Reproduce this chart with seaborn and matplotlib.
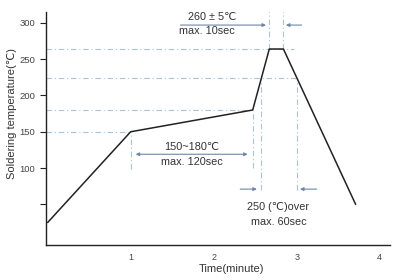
import matplotlib
matplotlib.use("Agg")
import matplotlib.pyplot as plt
import seaborn as sns
import pandas as pd

# ---- data ----
time_min = [0, 1, 2.47, 2.67, 2.84, 3.71]
temp_c = [25, 150, 180, 264, 264, 50]

# horizontal reference lines: (temperature, x_end)
h_ref_temp = [150, 180, 224, 264]
h_ref_xend = [1.0, 2.47, 3.0, 2.97]
# vertical reference lines: (time, y_from, y_to)
v_ref_time = [1.0, 2.47, 2.575, 3.0, 2.67, 2.84]
v_ref_ylo = [99, 100, 70, 70, 264, 264]
v_ref_yhi = [150, 180, 224, 224, 316, 316]

xticks = [1, 2, 3, 4]
yticks = [50, 100, 150, 200, 250, 300]
ytick_labels = ["", "100", "150", "200", "250", "300"]

sns.set_theme(style="white")
plt.rcParams['font.family'] = ['Liberation Sans', 'DejaVu Sans']

fig = plt.figure(figsize=(4.12, 2.80), dpi=100)
ax = fig.add_axes([46/412, 1-245/280, (390-46)/412, (245-12)/280])

ref_color = "#a9c3d9"
arrow_color = "#6f86a8"
txt = "#333333"

for t, xe in zip(h_ref_temp, h_ref_xend):
    ax.plot([-0.02, xe], [t, t], color=ref_color, lw=0.8, ls=(0, (5, 2.5, 1, 2.5)), zorder=1)
for x, lo, hi in zip(v_ref_time, v_ref_ylo, v_ref_yhi):
    ax.plot([x, x], [lo, hi], color=ref_color, lw=0.8, ls=(0, (5, 2.5, 1, 2.5)), zorder=1)

df = pd.DataFrame({"time": time_min, "temp": temp_c})
sns.lineplot(data=df, x="time", y="temp", ax=ax, color="#222222", lw=1.1, sort=False, zorder=3)

ax.set_xlim(-0.02, 4.124)
ax.set_ylim(-6, 315)
ax.set_xticks(xticks)
ax.set_xticklabels([str(v) for v in xticks])
ax.set_yticks(yticks)
ax.set_yticklabels(ytick_labels)
ax.tick_params(axis='x', direction='inout', length=6, width=0.8, labelsize=6.5, pad=3, colors="#222222")
ax.tick_params(axis='y', direction='out', length=4, width=0.8, labelsize=6.8, pad=4, colors="#222222", left=True)
ax.tick_params(axis='both', labelcolor="#444444")
for s in ["top", "right"]:
    ax.spines[s].set_visible(False)
for s in ["left", "bottom"]:
    ax.spines[s].set_color("#222222")
    ax.spines[s].set_linewidth(1.0)

ax.set_xlabel("Time(minute)", fontsize=8, color=txt)
ax.set_ylabel("Soldering temperature(℃)", fontsize=8, color=txt)
ax.xaxis.set_label_coords(0.54, -0.083)
ax.yaxis.set_label_coords(-0.084, 0.566)

ap = dict(arrowstyle="-|>", color=arrow_color, lw=0.8, mutation_scale=5, shrinkA=0, shrinkB=0)
ap2 = dict(arrowstyle="<|-|>", color=arrow_color, lw=0.8, mutation_scale=5, shrinkA=0, shrinkB=0)

fs = 7.8
# 150~180 double arrow
ax.annotate("", xy=(2.41, 119), xytext=(1.06, 119), arrowprops=ap2)
ax.text(1.74, 129, "150~180℃", ha="center", va="center", fontsize=fs, color=txt)
ax.text(1.74, 108, "max. 120sec", ha="center", va="center", fontsize=fs, color=txt)

# top arrows
ax.annotate("", xy=(2.63, 297), xytext=(1.6, 297), arrowprops=ap)
ax.annotate("", xy=(2.87, 297), xytext=(3.06, 297), arrowprops=ap)
ax.text(1.98, 308, "260 ± 5℃", ha="center", va="center", fontsize=fs, color=txt)
ax.text(1.92, 289, "max. 10sec", ha="center", va="center", fontsize=fs, color=txt)

# bottom arrows
ax.annotate("", xy=(2.52, 71), xytext=(2.32, 71), arrowprops=ap)
ax.annotate("", xy=(3.04, 71), xytext=(3.24, 71), arrowprops=ap)
ax.text(2.77, 46, "250 (℃)over", ha="center", va="center", fontsize=fs, color=txt)
ax.text(2.78, 26, "max. 60sec", ha="center", va="center", fontsize=fs, color=txt)

fig.savefig("out.png", dpi=100)
